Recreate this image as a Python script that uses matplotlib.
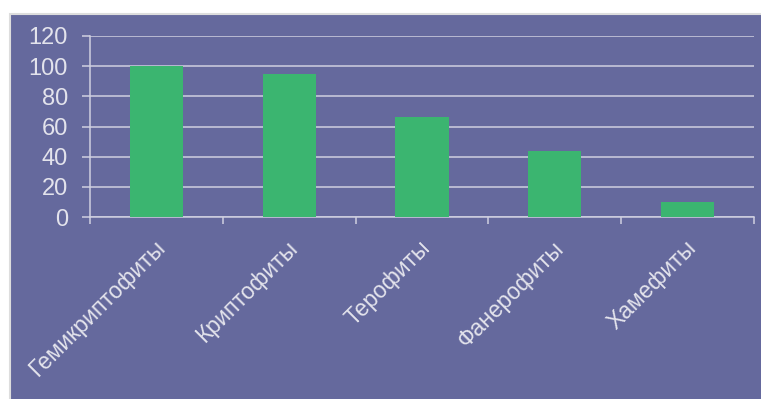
import numpy as np
import matplotlib as mpl, matplotlib.pyplot as plt
from matplotlib.patches import Rectangle

mpl.rcParams.update({"font.family": ["Liberation Sans", "DejaVu Sans"]})

# life-form spectrum
categories = ["Гемикриптофиты", "Криптофиты", "Терофиты", "Фанерофиты", "Хамефиты"]
counts = [100, 95, 66, 44, 10]
yticks = [0, 20, 40, 60, 80, 100, 120]

BG = "#65699D"
BAR = "#3BB570"
TXT = "#E3E3EC"
GRID = "#CFD0E0"

W, H = 761, 399
fig = plt.figure(figsize=(W / 100, H / 100), dpi=100, facecolor="white")
fig.patches.append(Rectangle((10 / W, -0.01), 1.01 - 10 / W, 1.01 - 14 / H, transform=fig.transFigure,
                             facecolor=BG, edgecolor="#DDDDDD", lw=1.5, zorder=-1))

ax = fig.add_axes([90 / W, 1 - 217 / H, (754 - 90) / W, (217 - 36) / H])
ax.set_facecolor(BG)
x = np.arange(len(categories))
ax.bar(x, counts, width=0.4, color=BAR, zorder=3)
ax.set_xlim(-0.5, len(categories) - 0.5)
ax.set_ylim(0, 120)
ax.set_yticks(yticks)
ax.grid(axis="y", color=GRID, lw=1.1, zorder=1)
ax.tick_params(axis="y", colors=GRID, labelcolor=TXT, labelsize=17, length=5.8, width=1.1, pad=10)

# boundary ticks on the category axis, labels at bar centres
ax.set_xticks(np.arange(len(categories) + 1) - 0.5)
ax.set_xticklabels([])
ax.tick_params(axis="x", colors=GRID, length=5, width=1.1)
for xi, name in zip(x, categories):
    ax.annotate(name, (xi, 0), xycoords=("data", "axes fraction"), xytext=(-2, -14),
                textcoords="offset points", rotation=45, rotation_mode="anchor",
                ha="right", va="top", color=TXT, fontsize=16.5)

for s in ("top", "right"):
    ax.spines[s].set_visible(False)
for s in ("left", "bottom"):
    ax.spines[s].set_color(GRID)
    ax.spines[s].set_linewidth(1.1)

fig.savefig("out.png", dpi=100, facecolor="white")
